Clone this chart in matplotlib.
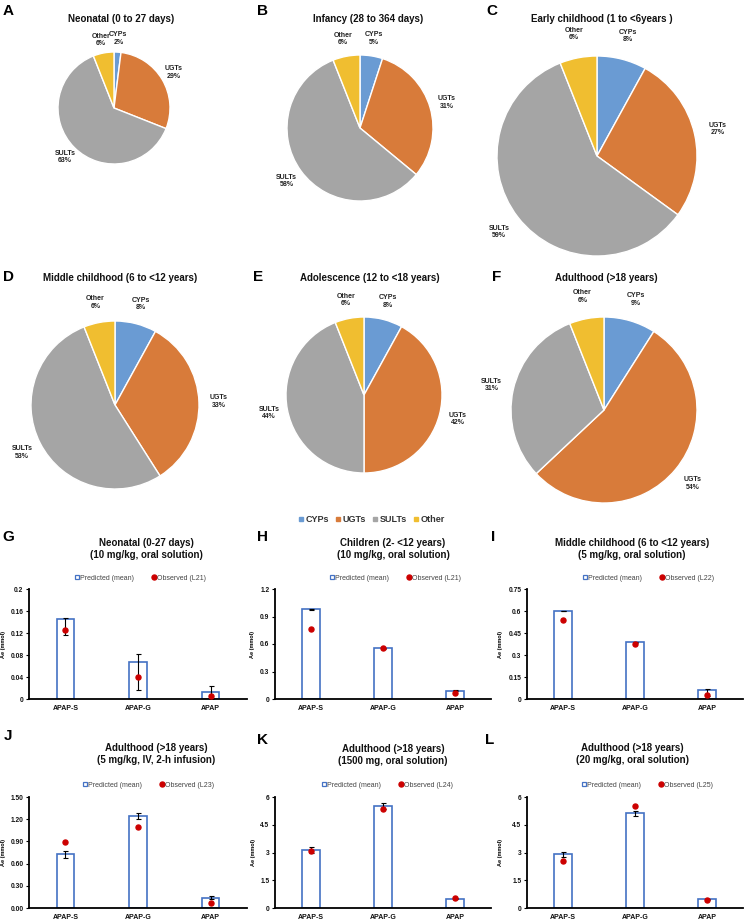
import matplotlib
matplotlib.use("Agg")
import matplotlib.pyplot as plt
from matplotlib.lines import Line2D
import numpy as np

plt.rcParams['font.family'] = ['Liberation Sans', 'DejaVu Sans']

W, H = 744, 922
DPI = 100

# ---------------- data ----------------
enzymes = ["CYPs", "UGTs", "SULTs", "Other"]
pie_colors = ["#6A9BD3", "#D87B3A", "#A5A5A5", "#F0BE30"]

pie_titles = ["Neonatal (0 to 27 days)", "Infancy (28 to 364 days)",
              "Early childhood (1 to <6years )", "Middle childhood (6 to <12 years)",
              "Adolescence (12 to <18 years)", "Adulthood (>18 years)"]
pie_letters = ["A", "B", "C", "D", "E", "F"]
pie_A = [2, 29, 63, 6]
pie_B = [5, 31, 58, 6]
pie_C = [8, 27, 59, 6]
pie_D = [8, 33, 53, 6]
pie_E = [8, 42, 44, 6]
pie_F = [9, 54, 31, 6]
pie_values = [pie_A, pie_B, pie_C, pie_D, pie_E, pie_F]

metabolites = ["APAP-S", "APAP-G", "APAP"]

bar_letters = ["G", "H", "I", "J", "K", "L"]
bar_titles = ["Neonatal (0-27 days)\n(10 mg/kg, oral solution)",
              "Children (2- <12 years)\n(10 mg/kg, oral solution)",
              "Middle childhood (6 to <12 years)\n(5 mg/kg, oral solution)",
              "Adulthood (>18 years)\n(5 mg/kg, IV, 2-h infusion)",
              "Adulthood (>18 years)\n(1500 mg, oral solution)",
              "Adulthood (>18 years)\n(20 mg/kg, oral solution)"]
obs_refs = ["L21", "L21", "L22", "L23", "L24", "L25"]

pred_G = [0.146, 0.068, 0.012]
obs_G = [0.125, 0.040, 0.006]
lo_G = [0.117, 0.016, 0.0]
hi_G = [0.147, 0.082, 0.023]

pred_H = [0.978, 0.554, 0.090]
obs_H = [0.760, 0.554, 0.065]
lo_H = [0.975, 0.550, 0.085]
hi_H = [0.981, 0.558, 0.095]

pred_I = [0.600, 0.386, 0.058]
obs_I = [0.540, 0.376, 0.028]
lo_I = [0.598, 0.383, 0.020]
hi_I = [0.602, 0.389, 0.068]

pred_J = [0.725, 1.243, 0.140]
obs_J = [0.890, 1.100, 0.072]
lo_J = [0.680, 1.200, 0.120]
hi_J = [0.770, 1.280, 0.160]

pred_K = [3.13, 5.49, 0.51]
obs_K = [3.08, 5.34, 0.54]
lo_K = [2.98, 5.33, 0.48]
hi_K = [3.28, 5.65, 0.55]

pred_L = [2.92, 5.11, 0.48]
obs_L = [2.54, 5.52, 0.43]
lo_L = [2.78, 4.96, 0.45]
hi_L = [3.05, 5.25, 0.51]

yticks_G = [0, 0.04, 0.08, 0.12, 0.16, 0.2]
yticks_H = [0, 0.3, 0.6, 0.9, 1.2]
yticks_I = [0, 0.15, 0.3, 0.45, 0.6, 0.75]
yticks_J = [0, 0.3, 0.6, 0.9, 1.2, 1.5]
yticks_K = [0, 1.5, 3, 4.5, 6]
yticks_L = [0, 1.5, 3, 4.5, 6]
ytl_G = ["0", "0.04", "0.08", "0.12", "0.16", "0.2"]
ytl_H = ["0", "0.3", "0.6", "0.9", "1.2"]
ytl_I = ["0", "0.15", "0.3", "0.45", "0.6", "0.75"]
ytl_J = ["0.00", "0.30", "0.60", "0.90", "1.20", "1.50"]
ytl_K = ["0", "1.5", "3", "4.5", "6"]
ytl_L = ["0", "1.5", "3", "4.5", "6"]

bar_sets = [
    (pred_G, obs_G, lo_G, hi_G, yticks_G, ytl_G),
    (pred_H, obs_H, lo_H, hi_H, yticks_H, ytl_H),
    (pred_I, obs_I, lo_I, hi_I, yticks_I, ytl_I),
    (pred_J, obs_J, lo_J, hi_J, yticks_J, ytl_J),
    (pred_K, obs_K, lo_K, hi_K, yticks_K, ytl_K),
    (pred_L, obs_L, lo_L, hi_L, yticks_L, ytl_L),
]

# ---------------- layout (pixels) ----------------
fig = plt.figure(figsize=(W / DPI, H / DPI), dpi=DPI)


def fx(px):
    return px / W


def fy(py):
    return 1 - py / H


pie_centers = [(114, 108), (360, 128), (597, 156), (115, 405), (364, 395), (604, 410)]
pie_radii = [56, 73, 100, 84, 78, 93]
pie_title_pos = [(121, 19), (368, 19), (602, 19), (120, 278), (370, 278), (606, 278)]
pie_letter_pos = [(8, 11), (262, 11), (492, 11), (9, 277), (258, 277), (497, 277)]

S = 260
for vals, (cx, cy), r, title, tpos, letter, lpos in zip(
        pie_values, pie_centers, pie_radii, pie_titles, pie_title_pos, pie_letters, pie_letter_pos):
    ax = fig.add_axes([fx(cx - S / 2), fy(cy + S / 2), S / W, S / H])
    labels = [f"{n}\n{v}%" for n, v in zip(enzymes, vals)]
    ax.pie(vals, colors=pie_colors, startangle=90, counterclock=False, radius=r,
           labels=labels, labeldistance=1.24,
           wedgeprops=dict(edgecolor="white", linewidth=1.0),
           textprops=dict(fontsize=5, fontweight="bold", color="#222222",
                          ha="center", va="center", linespacing=1.1))
    ax.set_xlim(-S / 2, S / 2)
    ax.set_ylim(-S / 2, S / 2)
    ax.set_aspect("equal", adjustable="box")
    ax.axis("off")
    fig.text(fx(tpos[0]), fy(tpos[1]), title, ha="center", va="center",
             fontsize=7, fontweight="bold", color="#111111")
    fig.text(fx(lpos[0]), fy(lpos[1]), letter, ha="center", va="center",
             fontsize=11, fontweight="bold", color="black")

# pie legend
pie_handles = [Line2D([], [], marker="s", linestyle="none", markersize=3.5,
                      markerfacecolor=c, markeredgecolor=c) for c in pie_colors]
fig.legend(pie_handles, enzymes, loc="center", bbox_to_anchor=(fx(371), fy(520)),
           ncol=4, frameon=False, handletextpad=0.1, columnspacing=0.6,
           handlelength=0.8, prop=dict(size=6.5, weight="bold"), labelcolor="#333333")

# bar charts
col_x = [(29, 247), (275, 491), (527, 743)]
row_y = [(589, 699), (797, 908)]
title_pos = [(146, 549), (393, 549), (632, 549), (156, 754), (393, 755), (632, 754)]
legend_pos = [(140, 578), (395, 578), (648, 578), (148, 785), (387, 785), (647, 785)]
letter_pos = [(8, 537), (263, 537), (493, 537), (8, 736), (262, 740), (490, 740)]
ylabel_x = [6, 255, 503, 6, 256, 503]

blue = "#4472C4"
red = "#CC0000"
xpos = np.arange(len(metabolites))

for i, ((pred, obs, lo, hi, ytk, ytl), title, ref, letter) in enumerate(
        zip(bar_sets, bar_titles, obs_refs, bar_letters)):
    r, c = divmod(i, 3)
    x0, x1 = col_x[c]
    y0, y1 = row_y[r]
    ax = fig.add_axes([fx(x0), fy(y1), (x1 - x0) / W, (y1 - y0) / H])
    pred = np.array(pred)
    ax.bar(xpos, pred, width=0.24, facecolor="white", edgecolor=blue, linewidth=1.2, zorder=2)
    yerr = np.vstack([pred - np.array(lo), np.array(hi) - pred])
    ax.errorbar(xpos, pred, yerr=yerr, fmt="none", ecolor="black", elinewidth=0.8,
                capsize=1.8, capthick=0.8, zorder=3)
    ax.plot(xpos, obs, linestyle="none", marker="o", markersize=3.6, color=red, zorder=4)
    ax.set_xlim(-0.5, 2.5)
    ax.set_ylim(ytk[0], ytk[-1])
    ax.set_yticks(ytk)
    ax.set_yticklabels(ytl)
    ax.set_xticks(xpos)
    ax.set_xticklabels(metabolites)
    for s in ["top", "right"]:
        ax.spines[s].set_visible(False)
    for s in ["left", "bottom"]:
        ax.spines[s].set_linewidth(1.3)
        ax.spines[s].set_color("black")
    ax.tick_params(axis="x", length=0, pad=4, labelsize=5)
    ax.tick_params(axis="y", length=2, width=0.8, pad=2, labelsize=4.8)
    for t in ax.get_xticklabels() + ax.get_yticklabels():
        t.set_fontweight("bold")
        t.set_color("#111111")
    ax.set_ylabel("Ae (mmol)", fontsize=4, fontweight="bold")
    ax.yaxis.set_label_coords((ylabel_x[i] - x0) / (x1 - x0), 0.5)

    tx, ty = title_pos[i]
    fig.text(fx(tx), fy(ty), title, ha="center", va="center", fontsize=7,
             fontweight="bold", color="#111111", linespacing=1.25)
    lx, ly = letter_pos[i]
    fig.text(fx(lx), fy(ly), letter, ha="center", va="center", fontsize=11,
             fontweight="bold", color="black")
    handles = [Line2D([], [], marker="s", linestyle="none", markersize=3.2,
                      markerfacecolor="white", markeredgecolor=blue, markeredgewidth=0.9),
               Line2D([], [], marker="o", linestyle="none", markersize=3.6, color=red)]
    gx, gy = legend_pos[i]
    fig.legend(handles, ["Predicted (mean)", f"Observed ({ref})"], loc="center",
               bbox_to_anchor=(fx(gx), fy(gy)), ncol=2, frameon=False,
               handletextpad=0.0, columnspacing=2.5, handlelength=0.9,
               prop=dict(size=5), labelcolor="#444444")

fig.savefig("out.png", dpi=DPI)
